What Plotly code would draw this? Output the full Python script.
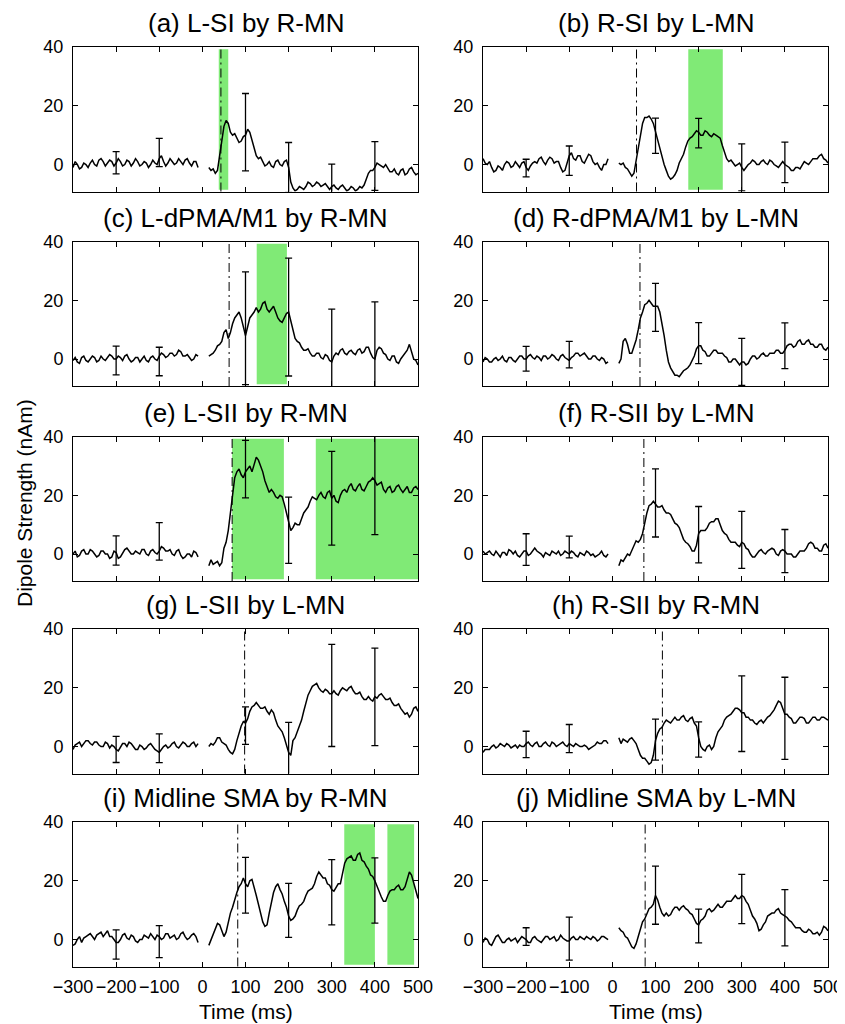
import plotly.graph_objects as go

# ---------------- data ----------------
pre_t = list(range(-300, -9, 10))            # -300 .. -10 ms
post_t = [15] + list(range(20, 501, 10))     # 15 .. 500 ms
pre_mid_t = list(range(-295, -14, 10))       # in-between readings, -295 .. -15 ms
post_mid_t = list(range(25, 496, 10))        # in-between readings, 25 .. 495 ms
err_t = [-200, -100, 100, 200, 300, 400]
x_ticks = [-300, -200, -100, 0, 100, 200, 300, 400, 500]
y_ticks = [0, 20, 40]

titles = ["(a) L-SI by R-MN", "(b) R-SI by L-MN", "(c) L-dPMA/M1 by R-MN",
          "(d) R-dPMA/M1 by L-MN", "(e) L-SII by R-MN", "(f) R-SII by L-MN",
          "(g) L-SII by L-MN", "(h) R-SII by R-MN", "(i) Midline SMA by R-MN",
          "(j) Midline SMA by L-MN"]

onset_ms = [43, 56, 62, 64, 69, 73, 98, 116, 82, 76]
sig_windows = [[(38, 60)], [(176, 256)], [(126, 196)], [], [(69, 189), (263, 500)],
               [], [], [], [(329, 400), (429, 491)], []]

# (a)
a_pre = [-1, 0, -1, 0, 0.5, 0, 1.5, 1, 0.5, 1, 0.5, 1, 0, 1, 0.5, 1, 0, 0.5, 0, 0.5,
         2, 1, 0.5, 1, 0.5, 1, 1.5, 0.5, 1, -1]
a_pre_mid = [1, -1.5, 0.5, -1, 1.5, -0.5, 2, -0.5, 1.5, -0.5, 2, -0.5, 1.5, -0.5, 2,
             -0.5, 1, -1, 1.5, 0, 3, -0.5, 2, 0, 2, 0, 2, -0.5, 1]
a_post = [-1, -2, -3, 3, 13, 14, 10, 9, 8, 10, 11, 5, 2, 1, 0, -0.5, 1, 0, 1, -1,
          -8, -8.5, -8, -7.5, -6.5, -7, -6.5, -7, -7.5, -7.5, -8, -7.5, -8, -8.5, -8,
          -8.5, -8, -5, -2, -1, 0, -1, -1.5, -2.5, -3, -2, -3.5, -1.5, -2.5, -3]
a_post_mid = [-1.5, -2, 9, 15, 11, 10.5, 7.5, 9.5, 12, 8,
              3, 2.5, -0.5, 1, -1, 1.5, -0.5, 1.5, -6, -9,
              -7.5, -8.5, -6, -7.5, -6, -7.5, -6.5, -8.5, -7, -8.5,
              -7, -9, -7.5, -9, -7.5, -7, -3, -2, 0.5, -0.5,
              0, -2.5, -1.5, -3.5, -1.5, -3, -1, -3.5]
a_err_mean = [0.6, 4.1, 11, -1, -8, -0.5]
a_err_sd = [3.8, 4.8, 13.2, 8.5, 8.1, 8.3]

# (b)
b_pre = [2, 0, -1, -2, -1, 0, 0.5, -0.5, 0, 0.5, -1, -0.5, 1, 2, 1, 1.5, 2, 1, -1, -2,
         3, 2, 3, 1, 2, 3, 0, -1, 0, 2]
b_pre_mid = [0.5, 1, -2.5, -0.5, -2, 1, -1, 1, -1, 1, -2, 0.5, 0.5, 2.5, 0, 2.5, 0.5,
             1, -2.5, 1, 4, 1.5, 3, 0.5, 3.5, 1, 0.5, -2, 0]
b_post = [0.5, 0, -1, -3, -3, 6, 14, 16, 15.5, 11, 6, 0, -4, -4.5, -2, 2, 6, 9, 10.5, 11,
          10, 11, 9.5, 10, 9, 4, 1, 0.5, 0, -1, -1, 0.5, 1, 0, 1.5, 0, 1, -0.5, 0, 0,
          -1, -2, -1, 0, 0.5, 1, 2, 3, 2, 0.5]
b_post_mid = [0.5, -1.5, -4, 1, 10, 16, 16.5, 14, 8.5, 3,
              -2, -5, -3.5, 0.5, 3.5, 8, 9.5, 11.5, 10, 11.5,
              10, 10.5, 9.5, 6.5, 2, 1.5, -0.5, 0.5, -2, 0,
              1.5, 0, 1, 0.5, 1.5, 0, -1, 1, -0.5, -2,
              -1, -1.5, 1, 0, 2, 2, 3.5, 1.5]
b_err_mean = [-1.2, 1.3, 9.8, 10.7, -1, 0.7]
b_err_sd = [3, 5, 6, 5, 8, 6.9]

# (c)
c_pre = [-0.5, -1, 0.5, -0.5, 0, 0.5, -0.5, 0, 0.5, 1, 0, 0.5, 1, 0, -0.5, 0.5, 0, -0.5,
         0.5, 0, 1, 1.5, 1, 2, 1.5, 2.5, 1, 0.5, 0, 1]
c_pre_mid = [0.5, -1.5, 1, -1, 1, -1, 1, -0.5, 1.5, 0, 1, -0.5, 1.5, -1, 0.5, -1, 1,
             -1, 1, -0.5, 2, 0.5, 2, 1, 3, 1, 1.5, -0.5, 1.5]
c_post = [1, 1.5, 3, 5, 9, 7, 12, 15, 14, 8, 14, 16, 16, 19, 17, 17, 16, 13, 14, 16,
          10, 6, 4, 3, 2, 1, 2, 0, 1, -1, 2, 3, 2, 2.5, 2, 3, 2, 4, 2, 0,
          4, 2, 0, 1, -1, 0, 2, 5, 0, -2]
c_post_mid = [2, 4.5, 6, 10, 9, 14, 16, 11, 11, 15,
              17.5, 17, 19.5, 16, 18, 14, 12.5, 15.5, 13, 7,
              5.5, 3, 3.5, 1, 2, 0.5, 1.5, -0.5, 1, 1.5,
              3.5, 1.5, 3, 1.5, 3.5, 2.5, 4, 0.5, 3, 3.5,
              1.5, -0.5, 1, -1.5, 1, 3, 2.5, -0.5]
c_err_mean = [-0.5, -0.85, 10.5, 14.3, 0, 0]
c_err_sd = [4.9, 4.85, 19.2, 20.1, 17, 19.5]

# (d)
d_pre = [-1, 0, -1, 0.5, 0, -0.5, 0.5, -0.5, 0, 1, 0, 1.5, 0, 0.5, 1, 0, 1.5, 0, 1, 0.5,
         -0.5, 1, 2, 1.5, 1, 0, 1, -0.5, 0, -1]
d_pre_mid = [0.5, -1, 0, -0.5, 1, -1, 0.5, -1, 1, 0, 1, 0.5, 1, -0.5, 1, 0.5, 1, -0.5,
             1.5, 0, 0.5, 2, 1, 2, 0, 1, 0, 0.5, -1.5]
d_post = [-1.5, 0, 7, 2, 4, 10, 16, 19, 19, 18, 16, 8, -1, -4.5, -5.5, -5, -3.5, -2, 1, 4.5,
          3, 1, 2, 3, 2, 1, -1, 0, -1, -1, -2, 0, 1, 0.5, 2, 1, 2, 3, 2, 3,
          5, 4, 6, 5, 6, 5, 4, 5, 3.5, 4]
d_post_mid = [6, 5, 2, 6.5, 14, 18.5, 20, 18, 18, 12.5,
              3, -3, -5.5, -6, -4, -3, -0.5, 3.5, 4.5, 2.5,
              1, 3, 2, 2, 0.5, -1, 0, -2, -1, -1.5,
              1, 0, 1.5, 1, 2, 2, 3, 2, 4.5, 5,
              4.5, 6.5, 5, 6.5, 5, 4, 5, 3]
d_err_mean = [0.1, 1.5, 17.6, 5.4, -1, 4.5]
d_err_sd = [4.2, 4.5, 8.2, 7, 8, 7.8]

# (e)
e_pre = [0, -1, 1, 0, 1.5, 0, -0.5, 1, 0, -1, 0.5, -1, 1.5, 1, 0, 0.5, 1.5, 0, 1, 0.5,
         1, 2, 1, 0, 1, -0.5, -1, 0, 1, -1]
e_pre_mid = [1, -0.5, 1.5, 0, 1, -1, 1, 0, -1.5, 1, -1.5, 0.5, 2, 0, 1, 0, 1.5, -0.5,
             1.5, 0, 2.5, 1, 1.5, -0.5, 1.5, -1.5, 0, -1, 0.5]
e_post = [-4, -2, -3, -4, 2, 8, 20, 28, 27, 28, 30, 31, 32, 28, 23, 22, 19.5, 20, 17, 11,
          9, 10, 12, 15, 18, 19, 20, 19.5, 21, 19, 18, 20, 22, 23, 22, 23, 22, 23, 25, 25,
          24, 22, 22.5, 21, 23, 22, 22, 21, 22.5, 22]
e_post_mid = [-3.5, -2.5, -3, 4, 14, 26, 29, 26, 29, 28,
              33, 30, 25, 21, 21, 19, 19.5, 14, 8, 10.5,
              10, 14, 16, 19.5, 18.5, 21, 19, 21.5, 20, 17.5,
              21.5, 21, 24, 21.5, 24, 21.5, 24.5, 26, 23.5, 24.5,
              21, 23, 21.5, 23.5, 21, 23, 21, 23]
e_err_mean = [1.2, 4.3, 28.9, 8.1, 19, 25]
e_err_sd = [5, 6.4, 9.8, 11.3, 16, 18.4]

# (f)
f_pre = [1, 0.5, 0, 1, -1, 0.5, 1.5, 0, -0.5, 0, 1, 0, 2, 0.5, -1, 0, 1, 0, -0.5, 1,
         0, 0.5, -1, 0, 1, -0.5, -1, 0, -0.5, 0]
f_pre_mid = [0, 1, -0.5, 0, 0.5, -0.5, 1, 1, -1, 1, -0.5, 1, 1, 0, 0.5, -0.5, 0.5, 1,
             0, 0.5, 1, -0.5, 0.5, -0.5, 0.5, 0, -0.5, 1, -1]
f_post = [-4, -2, -1, -0.5, 3, 4, 7, 14, 17, 17, 16, 15, 14, 12, 10, 7, 4, 2.5, 1, 7,
          8, 9, 11, 12, 10, 7, 5, 4, 3, 4, 2, 0, -1, 1, 0.5, 1, 2, 0, 1, 1,
          0, -1, 0, 1, 2, 4, 2, 1, 3, 2]
f_post_mid = [-2.5, 0, 1, 4.5, 5, 11, 16.5, 18, 16, 16.5,
              14, 13.5, 10.5, 9, 5, 3.5, 1, 3, 8, 8,
              10.5, 11, 12, 8, 6.5, 4, 4, 2.5, 3.5, 1.5,
              -1, 0, 1.5, 0, 1.5, 1.5, -0.5, 1.5, 0, 0,
              -1, 1, 1, 3.5, 3.5, 2, 1, 3.5]
f_err_mean = [1.5, 2.4, 17.4, 6.6, 4.8, 1]
f_err_sd = [5.4, 3.7, 11.6, 9.6, 9.7, 7.35]

# (g)
g_pre = [-1, 1, 0, 2, 1, 1.5, 0.5, 0, 1, 0.5, -1, 0, 1, 1.5, 0, -1, 0, -0.5, 1, -1,
         -2, 0, -0.5, 1, 0, 0.5, 1, 0, 1.5, 1]
g_pre_mid = [0.5, 1.5, 1, 2, 0.5, 1.5, 0, 1.5, -0.5, 0, -1.5, 1, 0, 1, -1, 0.5, -1, 0.5,
             0, -1.5, -1, 0.5, 0, 1.5, -0.5, 1.5, 0, 1, 0]
g_post = [0, 1, 1.5, 3, 1, -1, -2.5, 2, 7, 8, 12, 14, 14, 13, 12, 12.5, 9, 6, 3, -2,
          2, 5, 9, 15, 19, 21, 20, 18.5, 19, 18, 18, 19, 19.5, 20, 19, 18, 17, 16, 16, 17,
          17.5, 17, 16, 15, 14, 13, 11, 10, 13, 12]
g_post_mid = [0.5, 3, 1.5, 0.5, -2, -1, 5, 8.5, 9.5, 13.5,
              15, 13, 13.5, 11, 11.5, 7, 5, 0, -3, 3,
              7.5, 12, 17.5, 20.5, 21.5, 19, 19.5, 18, 19, 17.5,
              20, 19, 20.5, 18, 18.5, 16, 17, 15.5, 16.5, 18,
              16, 16.5, 14, 14.5, 12, 11.5, 11, 13.5]
g_err_mean = [-1, -0.6, 7.1, -1, 17.4, 16.9]
g_err_sd = [4.45, 4.9, 6.4, 9.2, 17.4, 16.6]

# (h)
h_pre = [-2, -1, 0, -0.5, 1, 0, 0.5, 0, -0.5, 0, 1, 0.5, 1, 0, 1, 0.5, 1.5, 0, 1, 0.5,
         1, 0, 0.5, 0, 0, -0.5, 0.5, 1, 2, 1]
h_pre_mid = [-1, -1, 0.5, 0, 0.5, 1, -0.5, 0.5, 0.5, 0, 1.5, 0, 1.5, 0, 1.5, 0, 1, 0.5,
             1.5, 0, 0.5, 1, 0, 0.5, -1, 0, 1.5, 1, 2]
h_post = [3, 1, 2, 2.5, 2, -1, -4, -5, -5.5, 2, 6, 8, 8.5, 9, 9, 10, 9, 9.5, 8, 3,
          -1, 0, -1, 3, 6, 9, 10.5, 12, 13, 11.5, 10, 9, 8, 8.5, 8, 10, 11.5, 14, 15, 11,
          10, 8, 9, 10, 8, 9, 10, 9, 10, 9]
h_post_mid = [2.5, 1.5, 3, 1, -3, -4, -6, -3, 4.5, 6.5,
              9, 8, 10, 9, 10.5, 8.5, 10, 7, 0, -1.5,
              0.5, 0, 5, 7, 10, 11, 13, 12.5, 11.5, 10,
              9, 7.5, 9, 9, 10.5, 12.5, 15.5, 13, 11, 9.5,
              8, 10, 9.5, 8, 10, 9, 10, 9.5]
h_err_mean = [0.7, 2.7, 2.35, 2.4, 11.2, 9.6]
h_err_sd = [4.5, 4.8, 7, 6, 12.9, 14]

# (i)
i_pre = [-2, 0, -1, 1, 2, 0, 2, 1, 3, 1, -1, 0, 2, 0, 1, -1, 0, 1, 2, 0,
         1, 0.5, 2, 1, 0, 2, 1, 0.5, 2, -1]
i_pre_mid = [-1.5, 1, 0.5, 1.5, 1, 1.5, 2.5, 2, 1, 0, -1, 1.5, 0.5, 1.5, -0.5, 0, 1.5,
             0.5, 1, 1.5, 0, 2, 0.5, 1.5, 0.5, 2.5, 0, 1.5, 1]
i_post = [-2, 0, 4, 5, 1, 6, 11, 16, 19, 19, 20, 18, 12, 6, 5, 13, 18, 17, 13, 8,
          7, 10, 12, 15, 17, 19, 23, 21, 19, 17, 18, 19, 26, 28, 27, 29, 27, 25, 22, 20,
          16, 13, 15, 17, 18, 17, 18, 23, 19, 14]
i_post_mid = [2, 5.5, 3, 2.5, 9, 14, 18, 21, 18, 20.5,
              15, 9, 4.5, 9, 16, 19, 15.5, 11, 6.5, 8,
              11.5, 13, 16.5, 17.5, 21.5, 22, 21, 18.5, 16.5, 19,
              22, 27.5, 28.5, 27, 29.5, 26.5, 24, 21.5, 18, 14.5,
              13, 16.5, 17, 18.5, 17, 20.5, 22, 16.5]
i_err_mean = [-1.7, -0.75, 18.5, 9.9, 16.1, 16.7]
i_err_sd = [5, 5.45, 9.5, 9.2, 11.1, 11.1]

# (j)
j_pre = [-1, 0, -2, 1, 0, -1, 0.5, 0, -1, 1, 0, -1, 1, -0.5, 0, 1, 0.5, -0.5, 1.5, 0,
         -0.5, 1, 0, 0.5, 1, 0, 0.5, 0, 1, 0]
j_pre_mid = [0.5, -1.5, -0.5, 1.5, -1, 0, -0.5, 0.5, 0, 0.5, -1, 0.5, 0, -1, 1, 0, 1, 0,
             0.5, -0.5, 0.5, 0, 1, 0, 0.5, 1, -0.5, 1, 0.5]
j_post = [4, 3, 1, -1, -3, 1, 6, 9, 11, 15, 11, 8, 8, 10, 11, 11, 10.5, 9, 7, 5,
          7, 10, 9.5, 11, 11, 12, 13, 14, 14, 15, 13, 10, 7, 3, 5, 8, 9, 10, 9, 8,
          6.5, 5, 4, 3, 2.5, 3, 2, 1.5, 4.5, 3]
j_post_mid = [2.5, 0.5, -2.5, -1.5, 4, 7, 10.5, 12, 13.5, 9,
              9, 8.5, 11, 10, 11.5, 10, 8.5, 5.5, 6.5, 8,
              10.5, 10, 12, 11, 13, 13, 15, 14, 14.5, 12,
              8, 5.5, 3.5, 6, 8.5, 9, 10.5, 8.5, 7.5, 6,
              4, 4, 2.5, 3.5, 2, 2.5, 2.5, 4]
j_err_mean = [1, 0.3, 15.1, 4.6, 13.8, 7.4]
j_err_sd = [3, 7.3, 9.9, 5.75, 8.4, 9.6]

pre_vals = [a_pre, b_pre, c_pre, d_pre, e_pre, f_pre, g_pre, h_pre, i_pre, j_pre]
pre_mids = [a_pre_mid, b_pre_mid, c_pre_mid, d_pre_mid, e_pre_mid,
            f_pre_mid, g_pre_mid, h_pre_mid, i_pre_mid, j_pre_mid]
post_vals = [a_post, b_post, c_post, d_post, e_post, f_post, g_post, h_post, i_post, j_post]
post_mids = [a_post_mid, b_post_mid, c_post_mid, d_post_mid, e_post_mid,
             f_post_mid, g_post_mid, h_post_mid, i_post_mid, j_post_mid]
err_means = [a_err_mean, b_err_mean, c_err_mean, d_err_mean, e_err_mean,
             f_err_mean, g_err_mean, h_err_mean, i_err_mean, j_err_mean]
err_sds = [a_err_sd, b_err_sd, c_err_sd, d_err_sd, e_err_sd,
           f_err_sd, g_err_sd, h_err_sd, i_err_sd, j_err_sd]

for k in range(10):
    assert len(pre_vals[k]) == len(pre_t), (k, "pre")
    assert len(pre_mids[k]) == len(pre_mid_t), (k, "pre_mid")
    assert len(post_vals[k]) == len(post_t), (k, "post")
    assert len(post_mids[k]) == len(post_mid_t), (k, "post_mid")


def merged(ts1, vs1, ts2, vs2):
    pts = sorted(zip(ts1 + ts2, vs1 + vs2))
    return [p[0] for p in pts], [p[1] for p in pts]


# ------------- layout geometry, in page pixels (page body keeps an 8px margin) -------------
OFF = 8
W, H = 845, 1024
col_x = [(73, 418), (483, 828)]
row_top = [47, 241.5, 436.5, 629, 822]
row_h = 144.5
FONT = "Liberation Sans, Arial, Helvetica, sans-serif"
GREEN = "rgb(128,234,118)"


def px_x(x):
    return (x - OFF) / W


def px_y(y):
    return 1 - (y - OFF) / H


fig = go.Figure()
layout = dict(width=W, height=H, margin=dict(l=0, r=0, t=0, b=0, pad=0, autoexpand=False),
              paper_bgcolor="white", plot_bgcolor="white", showlegend=False,
              font=dict(family=FONT, color="black"))
shapes, annotations = [], []

for k in range(10):
    r, c = divmod(k, 2)
    ax = k + 1
    xs = "" if ax == 1 else str(ax)
    x0p, x1p = px_x(col_x[c][0]), px_x(col_x[c][1])
    y1p = px_y(row_top[r])
    y0p = px_y(row_top[r] + row_h)

    common = dict(ticks="inside", ticklen=5, tickwidth=1, tickcolor="black",
                  showline=True, linecolor="black", linewidth=1, mirror="allticks",
                  showgrid=False, zeroline=False, automargin=False,
                  tickfont=dict(size=18, family=FONT))
    layout["xaxis" + xs] = dict(domain=[x0p, x1p], range=[-300, 500], tickvals=x_ticks,
                                anchor="y" + xs, showticklabels=(r == 4), tickangle=0,
                                ticklabelstandoff=4, **common)
    layout["yaxis" + xs] = dict(domain=[y0p, y1p], range=[-9.2, 40.05], tickvals=y_ticks,
                                anchor="x" + xs, ticklabelstandoff=5, **common)

    xr, yr = "x" + xs, "y" + xs
    for (w0, w1) in sig_windows[k]:
        shapes.append(dict(type="rect", xref=xr, yref=yr + " domain", x0=w0, x1=w1,
                           y0=0.012, y1=0.984, fillcolor=GREEN, line=dict(width=0),
                           layer="below"))
    shapes.append(dict(type="line", xref=xr, yref=yr + " domain", x0=onset_ms[k],
                       x1=onset_ms[k], y0=0, y1=1,
                       line=dict(color="black", width=1, dash="9px,4px,2px,4px"),
                       layer="below"))

    tx1, vy1 = merged(pre_t, pre_vals[k], pre_mid_t, pre_mids[k])
    tx2, vy2 = merged(post_t, post_vals[k], post_mid_t, post_mids[k])
    fig.add_trace(go.Scatter(x=tx1 + [None] + tx2, y=vy1 + [None] + vy2,
                             mode="lines", line=dict(color="black", width=1.5),
                             xaxis=xr, yaxis=yr, hoverinfo="skip"))
    fig.add_trace(go.Scatter(x=err_t, y=err_means[k], mode="markers",
                             marker=dict(size=1, color="rgba(0,0,0,0)"),
                             error_y=dict(type="data", array=err_sds[k], symmetric=True,
                                          color="black", thickness=1.3, width=3.5),
                             xaxis=xr, yaxis=yr, hoverinfo="skip"))

    annotations.append(dict(text=titles[k], x=(x0p + x1p) / 2, y=y1p, xref="paper",
                            yref="paper", xanchor="center", yanchor="bottom", yshift=7,
                            showarrow=False, font=dict(size=26, family=FONT, color="black")))

for c in range(2):
    annotations.append(dict(text="Time (ms)", x=px_x((col_x[c][0] + col_x[c][1]) / 2),
                            y=px_y(1011), xref="paper", yref="paper",
                            xanchor="center", yanchor="middle", showarrow=False,
                            font=dict(size=21, family=FONT, color="black")))

annotations.append(dict(text="Dipole Strength (nAm)", x=px_x(24), y=px_y(503),
                        xref="paper", yref="paper", xanchor="center", yanchor="middle",
                        textangle=-90, showarrow=False,
                        font=dict(size=21, family=FONT, color="black")))

layout["shapes"] = shapes
layout["annotations"] = annotations
fig.update_layout(**layout)
fig.write_html("out.html")
